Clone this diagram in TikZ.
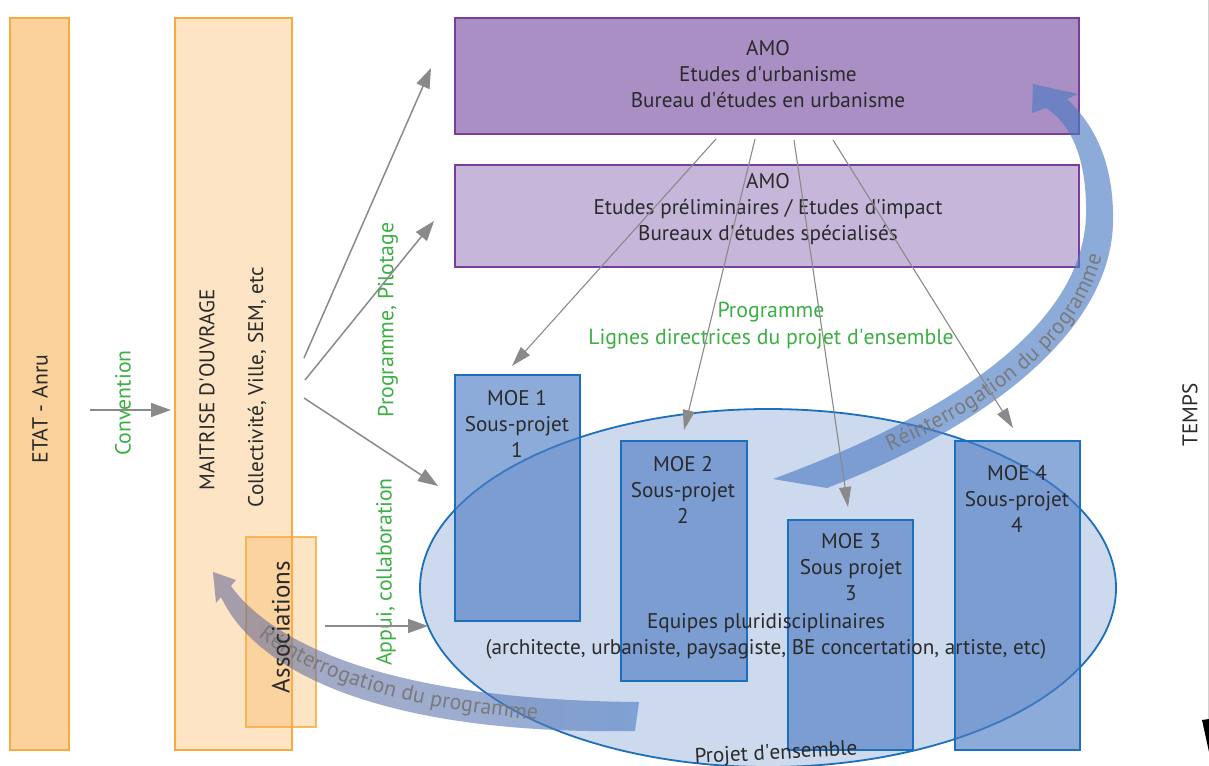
\documentclass[tikz,border=0pt]{standalone}
\usepackage{fontspec}
\setmainfont{PT Sans}
\usetikzlibrary{arrows.meta,decorations.text,shapes.geometric,fit}
\newcommand\apo{\textquotesingle}
\definecolor{etatfill}{HTML}{FBD29C}
\definecolor{orangeline}{HTML}{F9AA3C}
\definecolor{moafill}{HTML}{FDE4C4}
\definecolor{assocfill}{HTML}{F7B55A}
\definecolor{amoAfill}{HTML}{A98FC4}
\definecolor{amoBfill}{HTML}{C5B6DA}
\definecolor{purpleline}{HTML}{7B3D9C}
\definecolor{ellfill}{HTML}{CDD9ED}
\definecolor{blueline}{HTML}{1C6FBC}
\definecolor{moefill}{HTML}{4D7CC3}
\definecolor{labgreen}{HTML}{3CAF44}
\definecolor{arrgray}{HTML}{8A8A8A}
\definecolor{txtdark}{HTML}{2A2A2A}
\definecolor{bandgray}{HTML}{6E6E98}
\definecolor{bandtxt}{HTML}{7A7A7A}
\begin{document}
\begin{tikzpicture}[x=0.5pt,y=-0.5pt,
  font=\fontsize{10.6}{13}\selectfont,
  every node/.style={text=txtdark},
  boxbase/.style={inner sep=0pt, line width=1pt},
  etatbox/.style={boxbase, draw=orangeline, fill=etatfill},
  moabox/.style={boxbase, draw=orangeline, fill=moafill},
  assocbox/.style={boxbase, draw=orangeline, draw opacity=0.8, fill=assocfill, fill opacity=0.35},
  amoAbox/.style={boxbase, draw=purpleline, fill=amoAfill},
  amoBbox/.style={boxbase, draw=purpleline, fill=amoBfill},
  moebox/.style={boxbase, draw=blueline, fill=moefill, fill opacity=0.64},
  lbl/.style={align=center, inner sep=0pt},
  vlbl/.style={rotate=90, inner sep=0pt},
  greenlbl/.style={text=labgreen, font=\fontsize{10.9}{13.5}\selectfont},
  garrow/.style={draw=arrgray, line width=0.75pt, -{Triangle[length=10pt,width=7pt]}},
  tarrow/.style={draw=arrgray, line width=0.55pt, -{Triangle[length=10pt,width=6pt]}},
  bandtext/.style={decorate, decoration={text along path, text color=bandtxt,
     raise=-3.6pt}}
]
\useasboundingbox (0,0) rectangle (1209,765);
\clip (0,0) rectangle (1209,765);

% left boxes
\node[etatbox, fit={(10,18) (69,750)}] (etat) {};
\node[moabox, fit={(175,18) (292,750)}] (moa) {};
\node[assocbox, fit={(246,537) (316,727)}] (assoc) {};

% AMO boxes
\node[amoAbox, fit={(455,18) (1079,134)}] (amoA) {};
\node[amoBbox, fit={(455,165) (1079,267)}] (amoB) {};

% ellipse
\node[ellipse, minimum width=348pt, minimum height=179pt, inner sep=0pt,
      draw=blueline, fill=ellfill, line width=0.9pt] (projet) at (768,588) {};

% MOE boxes
\node[moebox, fit={(455,375) (580,621)}] (moe1) {};
\node[moebox, fit={(621,441) (747,681)}] (moe2) {};
\node[moebox, fit={(788,520) (913,750)}] (moe3) {};
\node[moebox, fit={(955,441) (1080,750)}] (moe4) {};

% lower band (back to the maitrise d'ouvrage), gray-to-blue, translucent
\begin{scope}[transparency group, opacity=0.6]
\shade[left color=bandgray, right color=moefill]
  (231,586) .. controls (270,640) and (380,700) .. (639,702)
  -- (635,731) .. controls (400,735) and (260,680) .. (221,597)
  -- (216,603) -- (213,572) -- (236,580) -- cycle;
\end{scope}
% upper band (back to the AMO)
\fill[moefill, fill opacity=0.64]
  (773,479) .. controls (960,410) and (1083,322) .. (1086,215)
  .. controls (1087,160) and (1072,125) .. (1046,108)
  -- (1032,113) -- (1033,84) -- (1078,94) -- (1067,99)
  .. controls (1100,130) and (1114,172) .. (1113,222)
  .. controls (1111,330) and (990,425) .. (827,488) -- cycle;

\path[bandtext, decoration={text={|\fontsize{11}{12}\selectfont|Réinterrogation du programme},
   text align={left indent=52pt}}]
  (790,482) .. controls (975,420) and (1099,332) .. (1099,218);
\path[bandtext, decoration={text={|\fontsize{11}{12}\selectfont|Réinterrogation du programme},
   text align={left indent=27pt}}]
  (226,591) .. controls (265,655) and (390,716) .. (637,716);

% texts
\node[vlbl, font=\fontsize{10.9}{13}\selectfont] (tetat) at (40,409) {ETAT - Anru};
\node[vlbl, greenlbl] (tconv) at (123,403) {Convention};
\node[vlbl] (tmoa) at (207,390) {MAITRISE D\apo OUVRAGE};
\node[vlbl] (tcoll) at (257,387) {Collectivité, Ville, SEM, etc};
\node[vlbl, font=\fontsize{12.5}{14}\selectfont] (tassoc) at (281,627) {Associations};
\node[vlbl, greenlbl] (tprog) at (388,320) {Programme, Pilotage};
\node[vlbl, greenlbl] (tappui) at (386,572) {Appui, collaboration};
\node[lbl] (tamoA) at (768,74) {AMO\\Etudes d\apo urbanisme\\Bureau d\apo études en urbanisme};
\node[lbl] (tamoB) at (768,209) {AMO\\Etudes préliminaires / Etudes d\apo impact\\Bureaux d\apo études spécialisés};
\node[lbl, greenlbl] (tlignes) at (771,326) {Programme\\Lignes directrices du projet d\apo ensemble};
\node[lbl] (tmoe1) at (517,424) {MOE 1\\Sous-projet\\1};
\node[lbl] (tmoe2) at (683,490) {MOE 2\\Sous-projet\\2};
\node[lbl] (tmoe3) at (851,567) {MOE 3\\Sous projet\\3};
\node[lbl] (tmoe4) at (1017,499) {MOE 4\\Sous-projet\\4};
\node[lbl] (tequipes) at (766,636) {Equipes pluridisciplinaires\\(architecte, urbaniste, paysagiste, BE concertation, artiste, etc)};
\node[inner sep=0pt, rotate=3] (tprojet) at (776,754) {Projet d\apo ensemble};
\node[vlbl] (ttemps) at (1190,415) {TEMPS};

% time axis (cut at the right edge)
\draw[gray!35, line width=0.4pt] (1208,0) -- (1208,720);
\fill[black] (1202,720) -- (1209,719) -- (1209,752) -- cycle;

% arrows
\coordinate (convS) at (90,410);
\coordinate (convE) at (171,410);
\coordinate (pA) at (304,358);
\coordinate (pAe) at (431,68);
\coordinate (pB) at (305,380);
\coordinate (pBe) at (434,221);
\coordinate (pC) at (304,398);
\coordinate (pCe) at (438,486);
\coordinate (apS) at (325,626);
\coordinate (apE) at (428,626);
\draw[garrow] (convS) -- (convE);
\draw[garrow] (pA) -- (pAe);
\draw[garrow] (pB) -- (pBe);
\draw[garrow] (pC) -- (pCe);
\draw[garrow] (apS) -- (apE);

\coordinate (a1) at (716,139);
\coordinate (a2) at (755,139);
\coordinate (a3) at (794,140);
\coordinate (a4) at (833,140);
\coordinate (m1) at (512,366);
\coordinate (m2) at (684,430);
\coordinate (m3) at (848,507);
\coordinate (m4) at (1013,428);
\draw[tarrow] (a1) -- (m1);
\draw[tarrow] (a2) -- (m2);
\draw[tarrow] (a3) -- (m3);
\draw[tarrow] (a4) -- (m4);
\end{tikzpicture}
\end{document}
